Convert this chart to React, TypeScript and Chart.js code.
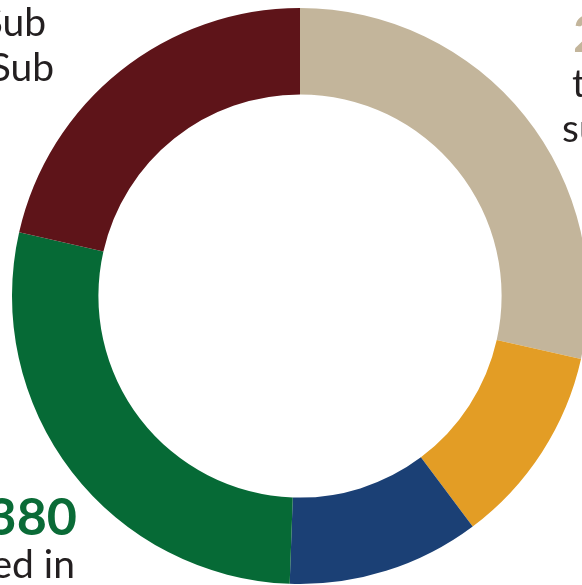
import React, { useEffect, useRef } from "react";
import { Chart, registerables } from "chart.js";

Chart.register(...registerables);

const categories = ["Tan", "Orange", "Blue", "Green", "Maroon"];
const values = [28.5, 11.25, 10.8, 27.97, 21.44];
const colors = ["#c3b59b", "#e39d25", "#1b4075", "#066a36", "#5e1419"];

const FONT = "Lato, 'Open Sans', sans-serif";
const DARK = "#231f20";

export default function App() {
  const ref = useRef<HTMLCanvasElement | null>(null);

  useEffect(() => {
    if (!ref.current) return;
    const chart = new Chart(ref.current, {
      type: "doughnut",
      data: {
        labels: categories,
        datasets: [
          {
            data: values,
            backgroundColor: colors,
            borderWidth: 0,
            hoverOffset: 0,
            offset: 0,
          },
        ],
      },
      options: {
        responsive: false,
        animation: false,
        events: [],
        cutout: "70%",
        layout: { padding: 8 },
        plugins: {
          legend: { display: false },
          tooltip: { enabled: false },
        },
      },
    });
    return () => chart.destroy();
  }, []);

  const txt = (style: React.CSSProperties, content: string) => (
    <div
      style={{
        position: "absolute",
        whiteSpace: "nowrap",
        fontFamily: FONT,
        fontSize: 39,
        lineHeight: "45px",
        color: DARK,
        ...style,
      }}
    >
      {content}
    </div>
  );

  const bold: React.CSSProperties = { fontWeight: 700, fontSize: 52, lineHeight: "52px" };

  return (
    <div
      style={{
        position: "fixed",
        left: 0,
        top: 0,
        width: 582,
        height: 585,
        overflow: "hidden",
        background: "#ffffff",
      }}
    >
      <canvas
        ref={ref}
        width={600}
        height={592}
        style={{ position: "absolute", left: 0, top: 0, width: 600, height: 592 }}
      />
      {txt({ right: 582 - 46, top: -1 }, "Sub")}
      {txt({ right: 582 - 54, top: 44 }, "Sub")}
      {txt({ left: 572, top: 60 }, "t")}
      {txt({ left: 562, top: 105 }, "su")}
      {txt({ left: 573, top: 6, ...bold, color: "#c3b59b" }, "2")}
      {txt({ right: 582 - 77, top: 489, ...bold, color: "#0a6b37" }, "380")}
      {txt({ right: 582 - 75, top: 541 }, "ed in")}
    </div>
  );
}
